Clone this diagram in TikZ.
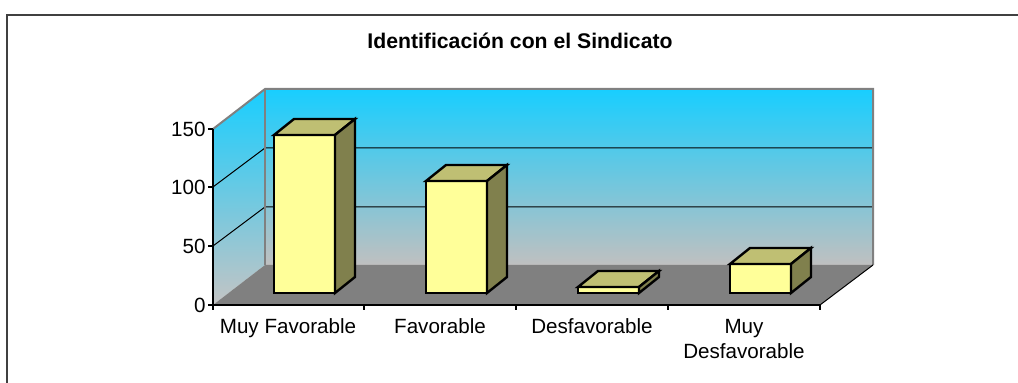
\documentclass[tikz,border=0pt]{standalone}
\usepackage{fontspec}
\setmainfont{Liberation Sans}
\begin{document}
\begin{tikzpicture}[x=0.5pt,y=0.5pt,yscale=-1,xscale=1,
  wallline/.style={draw={rgb, 255:red, 128; green, 128; blue, 128 },line width=1pt},
  gridline/.style={draw=black,line width=0.5pt},
  barfront/.style={draw=black,line width=1.2pt,fill={rgb, 255:red, 255; green, 255; blue, 153 }},
  bartop/.style={draw=black,line width=1.2pt,fill={rgb, 255:red, 191; green, 191; blue, 115 }},
  barside/.style={draw=black,line width=1.2pt,fill={rgb, 255:red, 128; green, 128; blue, 77 }},
  catlabel/.style={anchor=base,inner sep=0pt,font=\fontsize{10.3}{12.5}\selectfont},
  vallabel/.style={anchor=east,inner sep=0pt,font=\fontsize{10.3}{12.5}\selectfont}]
\useasboundingbox (0,0) rectangle (1018,383);
\clip (0,0) rectangle (1018,383);

%Shape: Chart frame
\draw [draw={rgb, 255:red, 64; green, 64; blue, 64 },line width=1pt] (7,15) rectangle (1040,420);

%Shape: Back wall
\shade [top color={rgb, 255:red, 24; green, 206; blue, 255 },bottom color={rgb, 255:red, 192; green, 192; blue, 192 }] (265,89) rectangle (873,265);
%Shape: Side wall
\shade [top color={rgb, 255:red, 24; green, 206; blue, 255 },bottom color={rgb, 255:red, 196; green, 196; blue, 196 }] (213,305) -- (213,129) -- (265,89) -- (265,265) -- cycle;
%Shape: Floor
\fill [fill={rgb, 255:red, 128; green, 128; blue, 128 }] (213,305) -- (265,265) -- (873,265) -- (820,305) -- cycle;

%Straight Lines: grid 50
\draw [gridline] (213,246) -- (265,207) -- (873,207);
%Straight Lines: grid 100
\draw [gridline] (213,187) -- (265,148) -- (873,148);

%Straight Lines: wall edges
\draw [wallline] (213,129) -- (265,89) -- (873,89) -- (873,265);
\draw [wallline] (265,89) -- (265,265);
%Straight Lines: floor edge
\draw [line width=0.5pt] (820,305) -- (873,265);

%Straight Lines: value axis
\draw [line width=0.6pt] (213,129) -- (213,305);
\draw [line width=0.6pt] (208,129) -- (213,129) (208,187) -- (213,187) (208,246) -- (213,246) (208,305) -- (213,305);
%Straight Lines: category axis
\draw [line width=0.6pt] (213,305) -- (820,305);
\draw [line width=0.6pt] (213,305) -- (213,310) (364,305) -- (364,310) (516,305) -- (516,310) (668,305) -- (668,310) (820,305) -- (820,310);

%Shape: Bar Muy Favorable
\draw [barfront] (274,293) rectangle (335,135);
\draw [bartop] (274,135) -- (294,119) -- (355,119) -- (335,135) -- cycle;
\draw [barside] (335,135) -- (355,119) -- (355,277) -- (335,293) -- cycle;
%Shape: Bar Favorable
\draw [barfront] (426,293) rectangle (487,181);
\draw [bartop] (426,181) -- (446,165) -- (507,165) -- (487,181) -- cycle;
\draw [barside] (487,181) -- (507,165) -- (507,277) -- (487,293) -- cycle;
%Shape: Bar Desfavorable
\draw [barfront] (578,293) rectangle (639,287);
\draw [bartop] (578,287) -- (598,271) -- (659,271) -- (639,287) -- cycle;
\draw [barside] (639,287) -- (659,271) -- (659,277) -- (639,293) -- cycle;
%Shape: Bar Muy Desfavorable
\draw [barfront] (730,293) rectangle (791,264);
\draw [bartop] (730,264) -- (750,248) -- (811,248) -- (791,264) -- cycle;
\draw [barside] (791,264) -- (811,248) -- (811,277) -- (791,293) -- cycle;

% Text Node
\draw (520,49) node [anchor=base][inner sep=0pt] (title) {\fontsize{10.6}{12.5}\selectfont\bfseries Identificación con el Sindicato};
% Text Node
\draw (206,129) node [vallabel] (v150) {150};
% Text Node
\draw (206,187) node [vallabel] (v100) {100};
% Text Node
\draw (206,246) node [vallabel] (v50) {50};
% Text Node
\draw (206,305) node [vallabel] (v0) {0};
% Text Node
\draw (288,334) node [catlabel] (c1) {Muy Favorable};
% Text Node
\draw (440,334) node [catlabel] (c2) {Favorable};
% Text Node
\draw (592,334) node [catlabel] (c3) {Desfavorable};
% Text Node
\draw (744,334) node [catlabel] (c4a) {Muy};
% Text Node
\draw (744,359) node [catlabel] (c4b) {Desfavorable};

\end{tikzpicture}
\end{document}
